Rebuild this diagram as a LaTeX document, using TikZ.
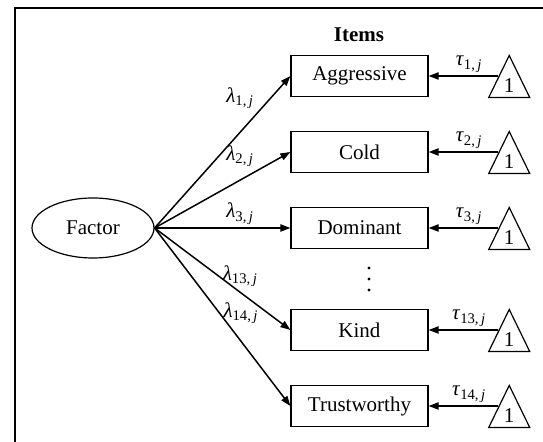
\documentclass[tikz,border=0pt]{standalone}
\usepackage{fontspec}
\setmainfont{Liberation Serif}
\usepackage{tikz}
\usetikzlibrary{shapes.geometric, arrows.meta, positioning}

\newcommand{\lam}[1]{\textit{λ}\textsubscript{#1,\,\textit{j}}}
\newcommand{\tauij}[1]{\textit{τ}\textsubscript{#1,\,\textit{j}}}

\begin{document}
\begin{tikzpicture}[x=0.5pt, y=-0.5pt,
  every node/.style={font=\fontsize{10.5}{12}\selectfont},
  item/.style={draw, line width=0.6pt, minimum width=68.5pt, minimum height=20.5pt, inner sep=0pt},
  one/.style={draw, line width=0.6pt, isosceles triangle, shape border rotate=90,
    isosceles triangle stretches, minimum width=20.5pt, minimum height=21pt, inner sep=0pt, anchor=left side},
  arr/.style={line width=0.75pt, -{Triangle[length=5pt, width=3.6pt]}},
  coef/.style={inner sep=1.5pt}]
  \useasboundingbox (0, 0) rectangle (543, 442);
  \draw[line width=1pt] (15, 442) -- (15, 8) -- (543, 8);

  \node[draw, line width=0.6pt, ellipse, minimum width=61pt, minimum height=30pt, inner sep=0pt] (factor) at (93, 228) {Factor};
  \node[font=\fontsize{10.5}{12}\selectfont\bfseries] (items) at (359, 35) {Items};

  \node[item] (agg) at (359.5, 76) {Aggressive};
  \node[item] (cold) at (359.5, 152) {Cold};
  \node[item] (dom) at (359.5, 228) {Dominant};
  \node[item] (kind) at (359.5, 330) {Kind};
  \node[item] (trust) at (359.5, 406) {Trustworthy};
  % skipped items
  \fill (369, 268) circle (0.8pt);
  \fill (369, 279) circle (0.8pt);
  \fill (369, 290) circle (0.8pt);

  \node[one] (one1) at (498.5, 76) {1};
  \node[one] (one2) at (498.5, 152) {1};
  \node[one] (one3) at (498.5, 228) {1};
  \node[one] (one13) at (498.5, 330) {1};
  \node[one] (one14) at (498.5, 406) {1};

  % loadings
  \draw[arr] (factor.east) -- (agg.west) node[coef, pos=0.76, above left] {\lam{1}};
  \draw[arr] (factor.east) -- (cold.west) node[coef, pos=0.76, above left] {\lam{2}};
  \draw[arr] (factor.east) -- (dom.west) node[coef, pos=0.76, above left] {\lam{3}};
  \draw[arr] (factor.east) -- (kind.west) node[coef, pos=0.475, anchor=west] {\lam{13}};
  \draw[arr] (factor.east) -- (trust.west) node[coef, pos=0.48, anchor=west] {\lam{14}};

  % intercepts
  \draw[arr] (one1.left side) -- (agg.east) node[coef, pos=0.42, above] {\tauij{1}};
  \draw[arr] (one2.left side) -- (cold.east) node[coef, pos=0.42, above] {\tauij{2}};
  \draw[arr] (one3.left side) -- (dom.east) node[coef, pos=0.42, above] {\tauij{3}};
  \draw[arr] (one13.left side) -- (kind.east) node[coef, pos=0.42, above] {\tauij{13}};
  \draw[arr] (one14.left side) -- (trust.east) node[coef, pos=0.42, above] {\tauij{14}};
\end{tikzpicture}
\end{document}
